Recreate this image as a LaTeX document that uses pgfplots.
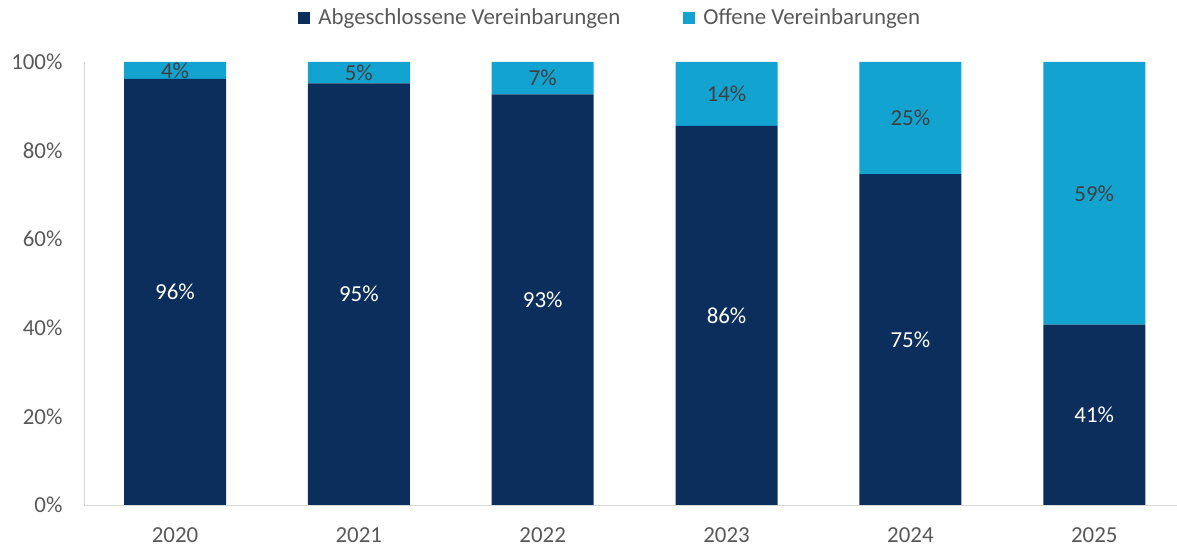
\documentclass[border=0pt]{standalone}
\usepackage{pgfplots}
\pgfplotsset{compat=1.18}
\usepackage{pgfplotstable}
\usepackage{fontspec}
\setmainfont{Carlito}
\definecolor{dark}{HTML}{0C2E5C}
\definecolor{light}{HTML}{12A3D0}
\definecolor{txt}{HTML}{595959}
\definecolor{lbl}{HTML}{404040}
\definecolor{axl}{HTML}{D9D9D9}
\pgfplotstableread{
x d o dl ol
0 96.2 3.8 96 4
1 95.2 4.8 95 5
2 92.7 7.3 93 7
3 85.6 14.4 86 14
4 74.7 25.3 75 25
5 40.7 59.3 41 59
}\data
\newcommand{\fs}{\fontsize{23}{27}\selectfont}
\begin{document}
\begin{tikzpicture}
\useasboundingbox (0,0) rectangle (1177bp,546bp);
\begin{axis}[
  at={(84bp,41bp)}, anchor=south west,
  scale only axis, width=1093bp, height=443bp,
  xmin=-0.495, xmax=5.45, ymin=0, ymax=100,
  axis x line*=bottom, axis y line*=left,
  axis line style={draw=axl, line width=1bp, -},
  major tick length=0pt,
  ytick={0,20,40,60,80,100},
  yticklabels={0\%,20\%,40\%,60\%,80\%,100\%},
  xtick={0,1,2,3,4,5},
  xticklabels={2020,2021,2022,2023,2024,2025},
  tick label style={font=\fs, text=txt},
  yticklabel style={xshift=-18bp},
  xticklabel style={yshift=-19bp},
  ybar stacked, bar width=102bp,
  legend style={at={(0.4815,1.10)}, anchor=center, draw=none, fill=none,
    legend columns=2, font=\fs, text=txt,
    /tikz/every even column/.append style={column sep=61bp}},
  legend image code/.code={\fill[#1] (0bp,-6bp) rectangle (12bp,6bp); \path (18bp,0bp);},
]
\addplot[fill=dark, draw=none,
  nodes near coords={\pgfplotspointmeta\%}, point meta=explicit symbolic,
  nodes near coords style={text=white, font=\fs, anchor=center}]
  table[x=x, y=d, meta=dl] {\data};
\addlegendentry{Abgeschlossene Vereinbarungen}
\addplot[fill=light, draw=none,
  nodes near coords={\pgfplotspointmeta\%}, point meta=explicit symbolic,
  nodes near coords style={text=lbl, font=\fs, anchor=center}]
  table[x=x, y=o, meta=ol] {\data};
\addlegendentry{Offene Vereinbarungen}
\end{axis}
\end{tikzpicture}
\end{document}
